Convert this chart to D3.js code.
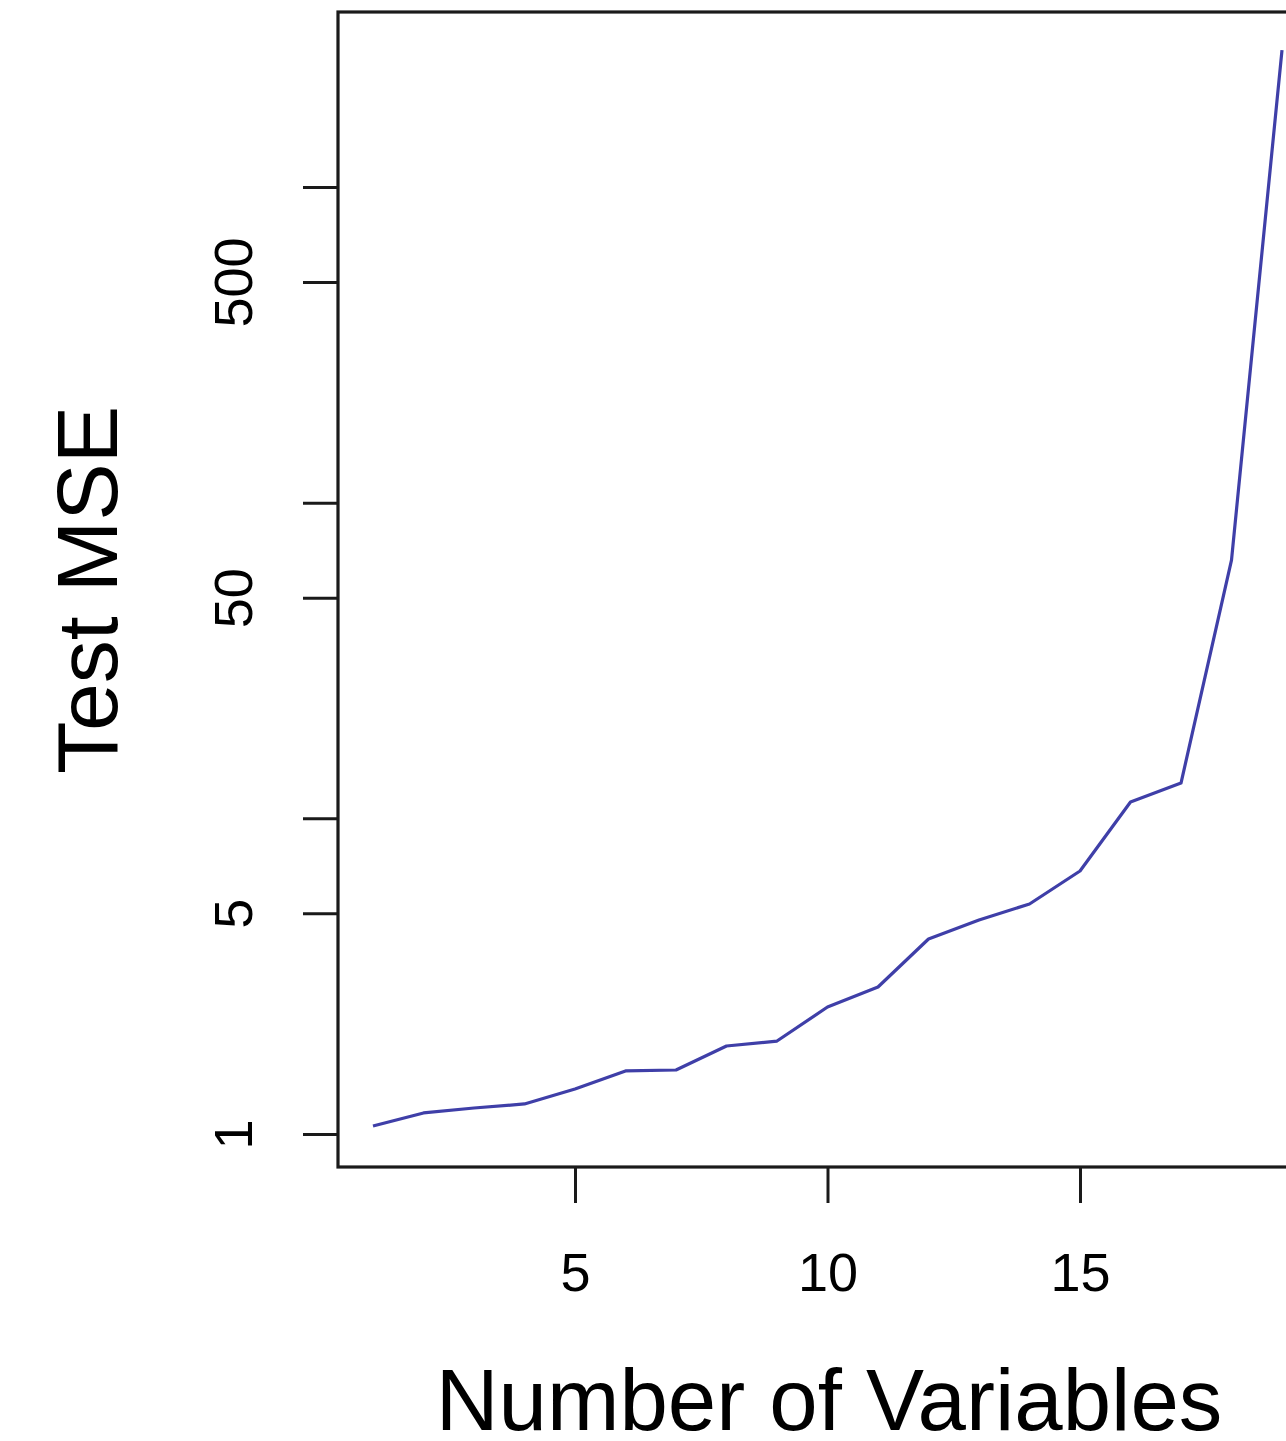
<!DOCTYPE html>
<html>
<head>
<meta charset="utf-8">
<script src="https://cdn.jsdelivr.net/npm/d3@7"></script>
<style>
html, body { margin: 0; padding: 0; background: #fff; overflow: hidden; }
svg { display: block; }
text { font-family: "Liberation Sans", Arial, Helvetica, sans-serif; fill: #000; }
</style>
</head>
<body>
<svg id="chart" width="1286" height="1441"></svg>
<script>
const numVars = [1,2,3,4,5,6,7,8,9,10,11,12,13,14,15,16,17,18,19];
const testMSE = [1.06,1.166,1.209,1.245,1.388,1.584,1.595,1.90,1.97,2.525,2.922,4.147,4.763,5.353,6.81,11.26,12.93,65.8,2714];
const xTicks = [5,10,15];
const yTicks = [1,5,10,50,100,500,1000];
const yTickLabels = {1:"1",5:"5",50:"50",500:"500"};
const xTitle = "Number of Variables";
const yTitle = "Test MSE";

(function(){
const svg = d3.select("#chart");
const pLeft = 338, pTop = 12, pBottom = 1167, pRight = 1330;

const x = d3.scaleLinear().domain([1,19]).range([373,1282]);
const y = d3.scaleLog().domain([1,1000]).range([1134,187]);

// plot line
const line = d3.line().x((d,i)=>x(numVars[i])).y(d=>y(d));
svg.append("path")
  .datum(testMSE)
  .attr("d", line)
  .attr("fill","none")
  .attr("stroke","#3f3fa8")
  .attr("stroke-width",3.2)
  .attr("stroke-linejoin","round");

// frame
svg.append("rect")
  .attr("x",pLeft).attr("y",pTop)
  .attr("width",pRight-pLeft).attr("height",pBottom-pTop)
  .attr("fill","none").attr("stroke","#1a1a1a").attr("stroke-width",3.2);

// x axis
const xAxis = d3.axisBottom(x).tickValues(xTicks).tickSize(36).tickPadding(88).tickFormat(d3.format("d"));
const gx = svg.append("g").attr("transform",`translate(0,${pBottom})`).call(xAxis);
gx.select(".domain").remove();
gx.selectAll(".tick line").attr("stroke","#1a1a1a").attr("stroke-width",3);
gx.selectAll(".tick text").attr("font-size",54).attr("font-family","Liberation Sans, Arial, sans-serif").attr("fill","#111").attr("dy","0");

// y axis
const yAxis = d3.axisLeft(y).tickValues(yTicks).tickSize(35).tickFormat(d => yTickLabels[d] || "");
const gy = svg.append("g").attr("transform",`translate(${pLeft},0)`).call(yAxis);
gy.select(".domain").remove();
gy.selectAll(".tick line").attr("stroke","#1a1a1a").attr("stroke-width",3);
gy.selectAll(".tick text")
  .attr("font-size",54)
  .attr("font-family","Liberation Sans, Arial, sans-serif")
  .attr("fill","#111")
  .attr("x",null).attr("dy",null)
  .attr("text-anchor","middle")
  .attr("transform","translate(-86,0) rotate(-90)");

// axis titles
svg.append("text")
  .attr("x",829).attr("y",1430)
  .attr("text-anchor","middle")
  .attr("font-size",87)
  .text(xTitle);

svg.append("text")
  .attr("transform","translate(117,590) rotate(-90)")
  .attr("text-anchor","middle")
  .attr("font-size",86)
  .text(yTitle);
})();
</script>
</body>
</html>
